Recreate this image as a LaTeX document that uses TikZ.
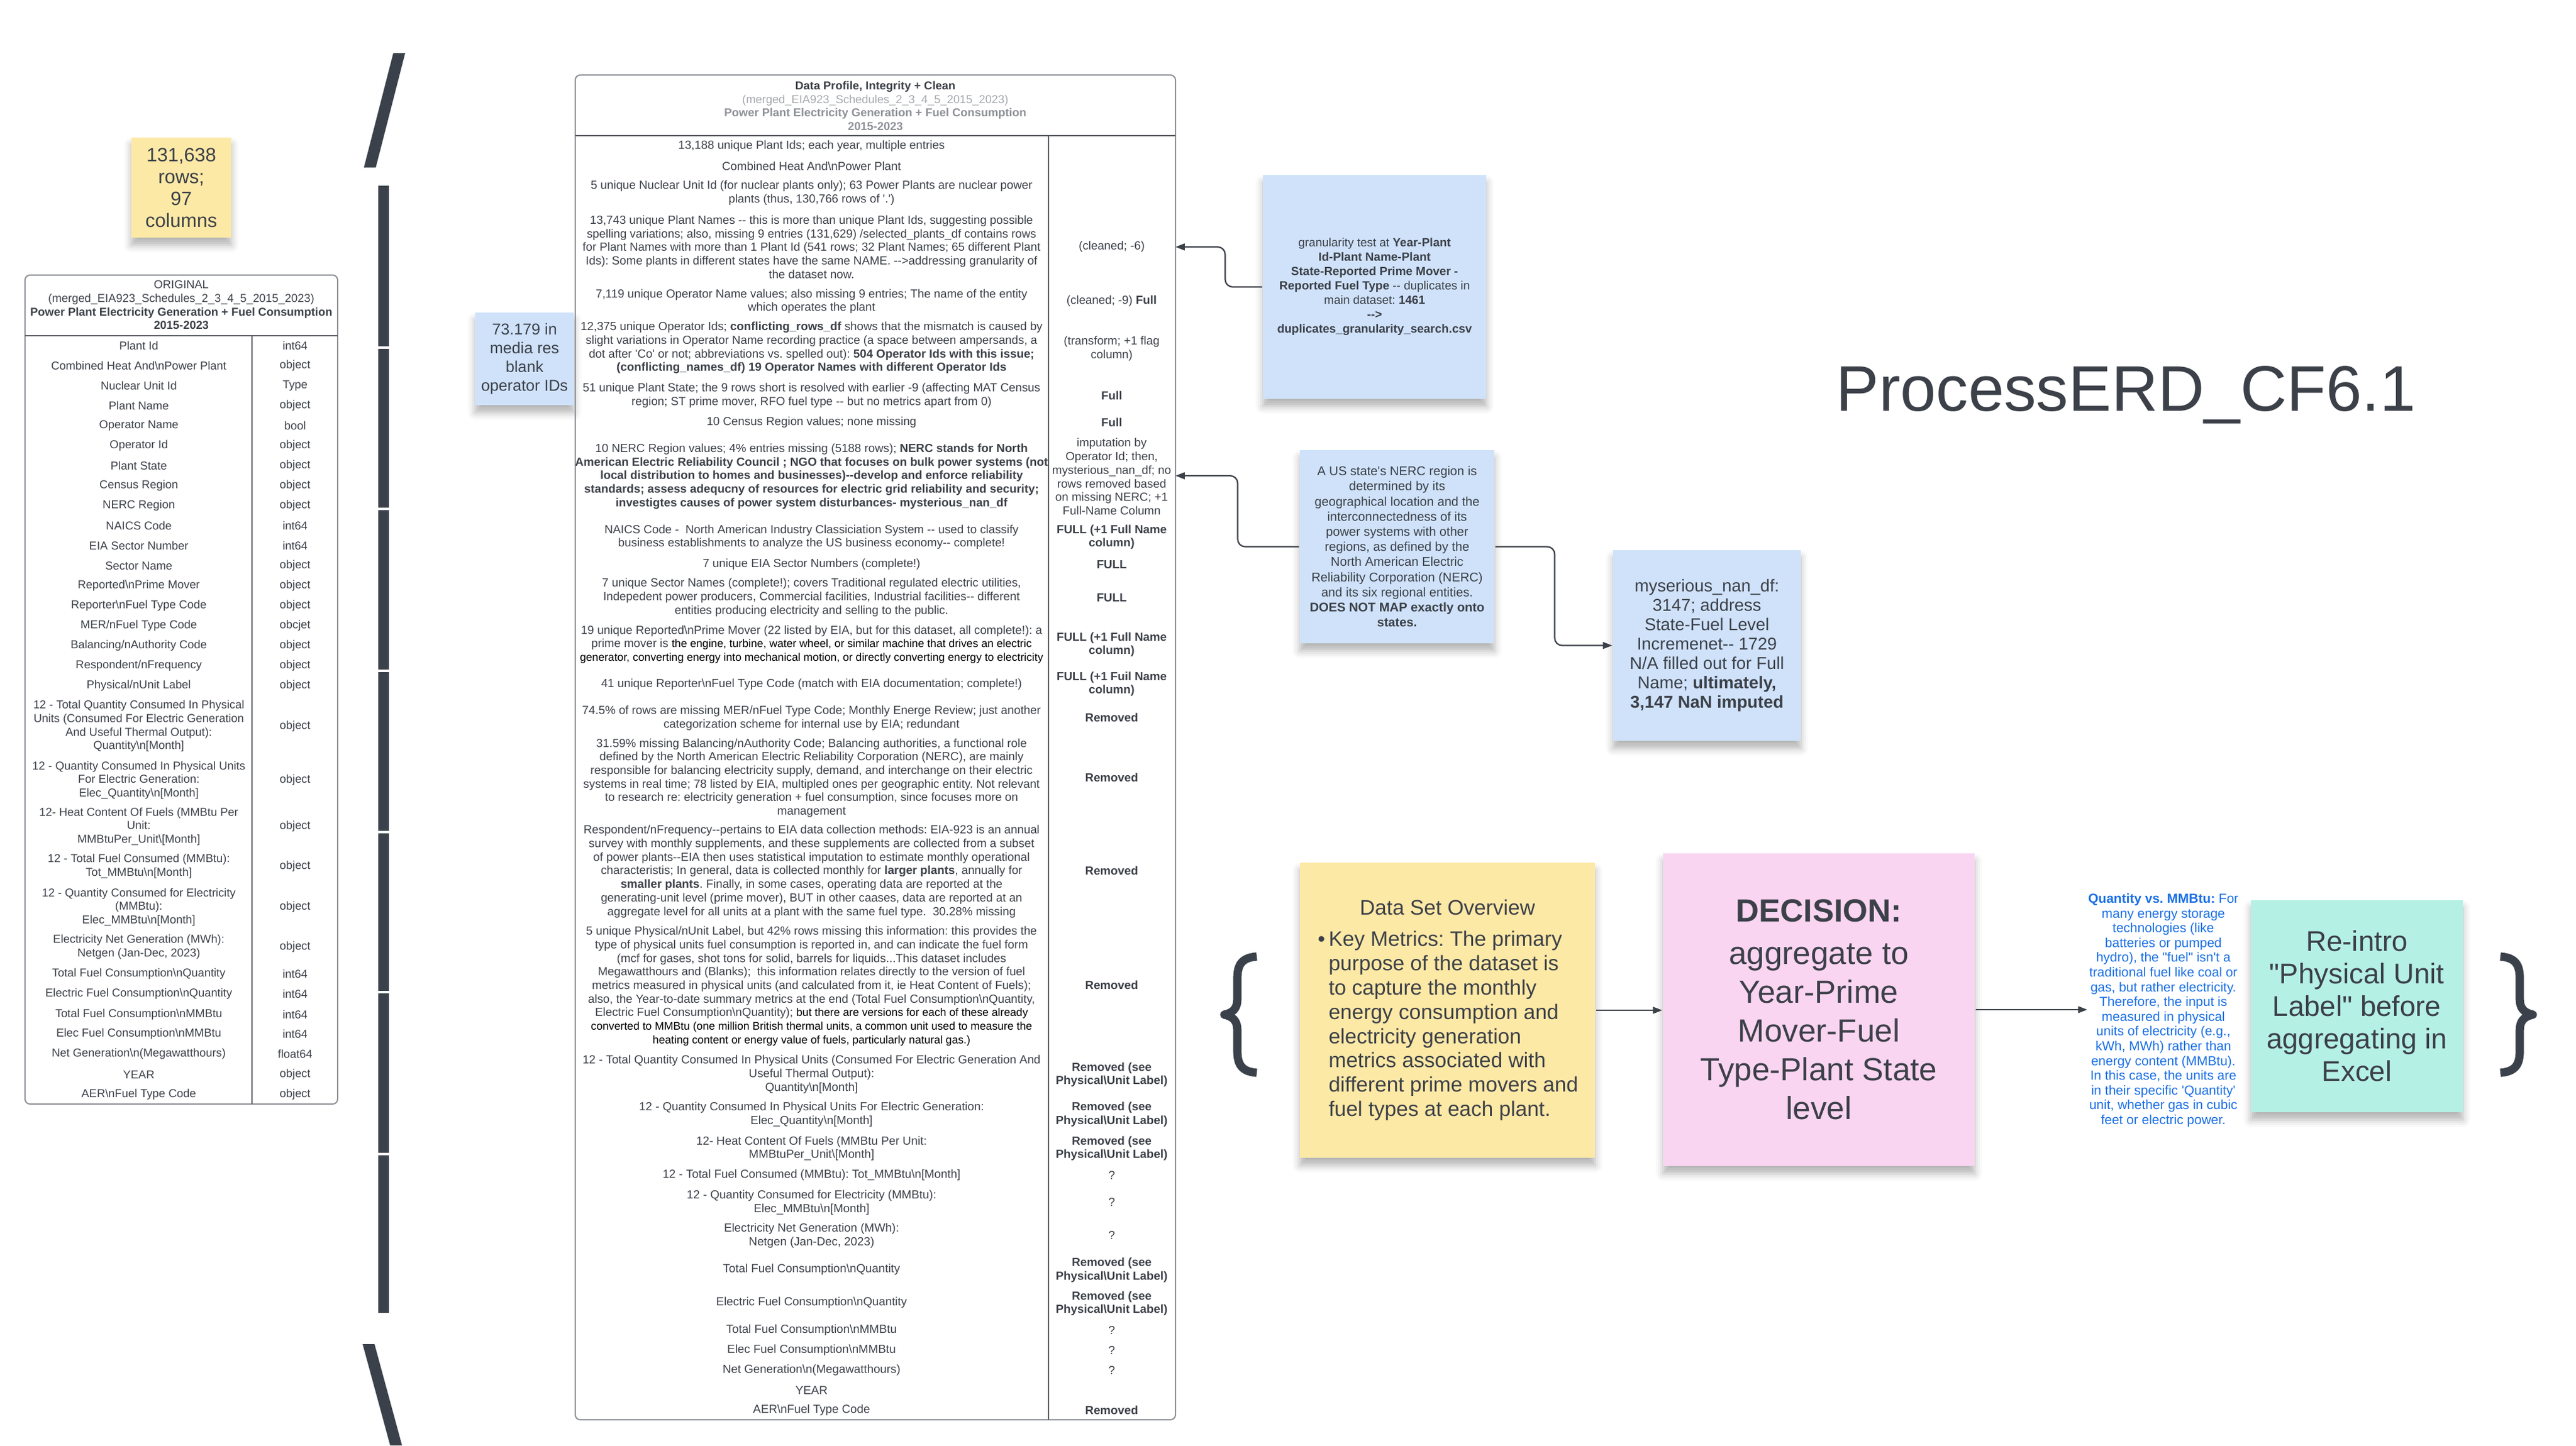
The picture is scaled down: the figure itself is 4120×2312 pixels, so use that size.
\documentclass[tikz,border=0pt]{standalone}
\usepackage{fontspec}
\setmainfont{Liberation Sans}[Ligatures=TeXOff]
\usetikzlibrary{arrows.meta,shadows.blur}
\frenchspacing

\definecolor{ink}{HTML}{3C4048}
\definecolor{frm}{HTML}{8C9096}
\definecolor{frmdark}{HTML}{5A5E64}
\definecolor{hdlight}{HTML}{A6A9AE}
\definecolor{hdgray}{HTML}{8E9197}
\definecolor{yelnote}{HTML}{FDE9A6}
\definecolor{blunote}{HTML}{CFE2FA}
\definecolor{pnknote}{HTML}{FAD5F2}
\definecolor{telnote}{HTML}{B5F0E5}
\definecolor{bluetxt}{HTML}{1A6FE6}
\definecolor{barclr}{HTML}{3A414B}

\newcommand{\fsz}[2]{\fontsize{#1pt}{#2pt}\selectfont}
\newcommand{\bs}{\textbackslash}
\newcommand{\dd}{-\kern0pt-}
\newcommand{\ovline}[1]{\makebox[95pt][l]{#1}}
\newcommand{\blk}[1]{{\fsz{4.42}{5.43}\color{black}#1}}

\tikzset{every picture/.style={line width=0.75pt}}
\tikzset{
  sticky/.style={inner sep=0pt, align=center, text=ink,
    blur shadow={shadow xshift=0pt, shadow yshift=-3pt, shadow blur radius=3pt, shadow opacity=30}},
  tblframe/.style={draw=frm, line width=0.5pt, rounded corners=2pt},
  tblline/.style={draw=frmdark, line width=0.45pt},
  lrow/.style={inner sep=0pt, align=center, text=ink, font=\fsz{4.6}{5.4}},
  mrow/.style={inner sep=0pt, align=center, text=ink, font=\fsz{4.7}{5.43}},
  conn/.style={draw=ink, line width=0.55pt, rounded corners=3pt, -{Triangle[length=3.7pt,width=2.7pt]}},
  bracefill/.style={draw=barclr, line width=3.3pt, line join=round}
}

\begin{document}
\begin{tikzpicture}[x=0.25pt,y=0.25pt,yscale=-1,xscale=1]
\useasboundingbox (0,0) rectangle (4120,2312);

%Shape: big bracket, slashes
\fill [barclr] (582,268) -- (601,268) -- (648,85) -- (629,85) -- cycle;
\fill [barclr] (580,2150) -- (599,2150) -- (643,2312) -- (624,2312) -- cycle;
%Shape: big bracket, bar segments
\fill [barclr] (605,297) rectangle (622,554);
\fill [barclr] (605,558) rectangle (622,812);
\fill [barclr] (605,816) rectangle (622,1071);
\fill [barclr] (605,1075) rectangle (622,1329);
\fill [barclr] (605,1333) rectangle (622,1585);
\fill [barclr] (605,1589) rectangle (622,1844);
\fill [barclr] (605,1848) rectangle (622,2100);

%Sticky: rows and columns
\draw (290,300) node [sticky, fill=yelnote, minimum width=40pt, minimum height=40pt, font=\fsz{7.7}{8.75}] (rowsnote) {131,638\\rows;\\97\\columns};

%Shape: Table ORIGINAL
\draw [tblframe] (40,440) rectangle (540,1766);
\draw [tblline] (40,537) -- (540,537);
\draw [tblline] (403,537) -- (403,1766);
% Text Node
\draw (290,488) node [lrow] (orighead) {ORIGINAL\\(merged\_EIA923\_Schedules\_2\_3\_4\_5\_2015\_2023)\\\textbf{Power Plant Electricity Generation + Fuel Consumption}\\\textbf{2015-2023}};
% Text Nodes, column names
\draw (222,553) node [lrow] (oc1) {Plant Id};
\draw (222,585) node [lrow] (oc2) {Combined Heat And\bs nPower Plant};
\draw (222,617) node [lrow] (oc3) {Nuclear Unit Id};
\draw (222,649) node [lrow] (oc4) {Plant Name};
\draw (222,681) node [lrow] (oc5) {Operator Name};
\draw (222,713) node [lrow] (oc6) {Operator Id};
\draw (222,745) node [lrow] (oc7) {Plant State};
\draw (222,777) node [lrow] (oc8) {Census Region};
\draw (222,809) node [lrow] (oc9) {NERC Region};
\draw (222,841) node [lrow] (oc10) {NAICS Code};
\draw (222,873) node [lrow] (oc11) {EIA Sector Number};
\draw (222,905) node [lrow] (oc12) {Sector Name};
\draw (222,937) node [lrow] (oc13) {Reported\bs nPrime Mover};
\draw (222,969) node [lrow] (oc14) {Reporter\bs nFuel Type Code};
\draw (222,1001) node [lrow] (oc15) {MER/nFuel Type Code};
\draw (222,1033) node [lrow] (oc16) {Balancing/nAuthority Code};
\draw (222,1065) node [lrow] (oc17) {Respondent/nFrequency};
\draw (222,1097) node [lrow] (oc18) {Physical/nUnit Label};
\draw (222,1161.5) node [lrow] (oc19) {12 - Total Quantity Consumed In Physical\\Units (Consumed For Electric Generation\\And Useful Thermal Output):\\Quantity\bs n[Month]};
\draw (222,1248) node [lrow] (oc20) {12 - Quantity Consumed In Physical Units\\For Electric Generation:\\Elec\_Quantity\bs n[Month]};
\draw (222,1322) node [lrow] (oc21) {12- Heat Content Of Fuels (MMBtu Per\\Unit:\\MMBtuPer\_Unit\bs[Month]};
\draw (222,1386) node [lrow] (oc22) {12 - Total Fuel Consumed (MMBtu):\\Tot\_MMBtu\bs n[Month]};
\draw (222,1451) node [lrow] (oc23) {12 - Quantity Consumed for Electricity\\(MMBtu):\\Elec\_MMBtu\bs n[Month]};
\draw (222,1515) node [lrow] (oc24) {Electricity Net Generation (MWh):\\Netgen (Jan-Dec, 2023)};
\draw (222,1558) node [lrow] (oc25) {Total Fuel Consumption\bs nQuantity};
\draw (222,1590) node [lrow] (oc26) {Electric Fuel Consumption\bs nQuantity};
\draw (222,1623) node [lrow] (oc27) {Total Fuel Consumption\bs nMMBtu};
\draw (222,1654) node [lrow] (oc28) {Elec Fuel Consumption\bs nMMBtu};
\draw (222,1686) node [lrow] (oc29) {Net Generation\bs n(Megawatthours)};
\draw (222,1719) node [lrow] (oc30) {YEAR};
\draw (222,1751) node [lrow] (oc31) {AER\bs nFuel Type Code};
% Text Nodes, column types
\draw (472,553) node [lrow] (ot1) {int64};
\draw (472,585) node [lrow] (ot2) {object};
\draw (472,617) node [lrow] (ot3) {Type};
\draw (472,649) node [lrow] (ot4) {object};
\draw (472,681) node [lrow] (ot5) {bool};
\draw (472,713) node [lrow] (ot6) {object};
\draw (472,745) node [lrow] (ot7) {object};
\draw (472,777) node [lrow] (ot8) {object};
\draw (472,809) node [lrow] (ot9) {object};
\draw (472,841) node [lrow] (ot10) {int64};
\draw (472,873) node [lrow] (ot11) {int64};
\draw (472,905) node [lrow] (ot12) {object};
\draw (472,937) node [lrow] (ot13) {object};
\draw (472,969) node [lrow] (ot14) {object};
\draw (472,1001) node [lrow] (ot15) {obcjet};
\draw (472,1033) node [lrow] (ot16) {object};
\draw (472,1065) node [lrow] (ot17) {object};
\draw (472,1097) node [lrow] (ot18) {object};
\draw (472,1161.5) node [lrow] (ot19) {object};
\draw (472,1248) node [lrow] (ot20) {object};
\draw (472,1322) node [lrow] (ot21) {object};
\draw (472,1386) node [lrow] (ot22) {object};
\draw (472,1451) node [lrow] (ot23) {object};
\draw (472,1515) node [lrow] (ot24) {object};
\draw (472,1558) node [lrow] (ot25) {int64};
\draw (472,1590) node [lrow] (ot26) {int64};
\draw (472,1623) node [lrow] (ot27) {int64};
\draw (472,1654) node [lrow] (ot28) {int64};
\draw (472,1686) node [lrow] (ot29) {float64};
\draw (472,1719) node [lrow] (ot30) {object};
\draw (472,1751) node [lrow] (ot31) {object};

%Sticky: blank operator IDs
\draw (839,574) node [sticky, fill=blunote, minimum width=39.5pt, minimum height=37pt, font=\fsz{6.3}{7.5}] (opnote) {73.179 in\\media res\\blank\\operator IDs};

%Shape: Table Data Profile
\draw [tblframe] (920,120) rectangle (1880,2271);
\draw [tblline] (920,217) -- (1880,217);
\draw [tblline] (1677,217) -- (1677,2271);
% Text Node
\draw (1400,169.5) node [lrow] (profhead) {\textbf{Data Profile, Integrity + Clean}\\{\color{hdlight}(merged\_EIA923\_Schedules\_2\_3\_4\_5\_2015\_2023)}\\{\color{hdgray}\textbf{Power Plant Electricity Generation + Fuel Consumption}}\\{\color{hdgray}\textbf{2015-2023}}};
% Text Nodes, profile notes
\draw (1298,234) node [mrow] (m1) {13,188 unique Plant Ids; each year, multiple entries};
\draw (1298,266) node [mrow] (m2) {Combined Heat And\bs nPower Plant};
\draw (1298,308.5) node [mrow] (m3) {5 unique Nuclear Unit Id (for nuclear plants only); 63 Power Plants are nuclear power\\plants (thus, 130,766 rows of '.')};
\draw (1298,395) node [mrow] (m4) {13,743 unique Plant Names \dd{} this is more than unique Plant Ids, suggesting possible\\spelling variations; also, missing 9 entries (131,629) /selected\_plants\_df contains rows\\for Plant Names with more than 1 Plant Id (541 rows; 32 Plant Names; 65 different Plant\\Ids): Some plants in different states have the same NAME. \dd>addressing granularity of\\the dataset now.};
\draw (1298,482) node [mrow] (m5) {7,119 unique Operator Name values; also missing 9 entries; The name of the entity\\which operates the plant};
\draw (1298,556.5) node [mrow] (m6) {12,375 unique Operator Ids; \textbf{conflicting\_rows\_df} shows that the mismatch is caused by\\slight variations in Operator Name recording practice (a space between ampersands, a\\dot after 'Co' or not; abbreviations vs. spelled out): \textbf{504 Operator Ids with this issue;}\\\textbf{(conflicting\_names\_df) 19 Operator Names with different Operator Ids}};
\draw (1298,632.5) node [mrow] (m7) {51 unique Plant State; the 9 rows short is resolved with earlier -9 (affecting MAT Census\\region; ST prime mover, RFO fuel type \dd{} but no metrics apart from 0)};
\draw (1298,676) node [mrow] (m8) {10 Census Region values; none missing};
\draw (1298,762) node [mrow] (m9) {10 NERC Region values; 4\% entries missing (5188 rows); \textbf{NERC stands for North}\\\textbf{American Electric Reliability Council ; NGO that focuses on bulk power systems (not}\\\textbf{local distribution to homes and businesses)\dd{}develop and enforce reliability}\\\textbf{standards; assess adequcny of resources for electric grid reliability and security;}\\\textbf{investigtes causes of power system disturbances- mysterious\_nan\_df}};
\draw (1298,859) node [mrow] (m10) {NAICS Code -\ \ North American Industry Classiciation System \dd{} used to classify\\business establishments to analyze the US business economy\dd{} complete!};
\draw (1298,903) node [mrow] (m11) {7 unique EIA Sector Numbers (complete!)};
\draw (1298,955.5) node [mrow] (m12) {7 unique Sector Names (complete!); covers Traditional regulated electric utilities,\\Indepedent power producers, Commercial facilities, Industrial facilities\dd{} different\\entities producing electricity and selling to the public.};
\draw (1298,1031) node [mrow] (m13) {19 unique Reported\bs nPrime Mover (22 listed by EIA, but for this dataset, all complete!): a\\prime mover is \blk{the engine, turbine, water wheel, or similar machine that drives an electric}\\\blk{generator, converting energy into mechanical motion, or directly converting energy to electricity}};
\draw (1298,1095) node [mrow] (m14) {41 unique Reporter\bs nFuel Type Code (match with EIA documentation; complete!)};
\draw (1298,1148.5) node [mrow] (m15) {74.5\% of rows are missing MER/nFuel Type Code; Monthly Energe Review; just another\\categorization scheme for internal use by EIA; redundant};
\draw (1298,1244.5) node [mrow] (m16) {31.59\% missing Balancing/nAuthority Code; Balancing authorities, a functional role\\defined by the North American Electric Reliability Corporation (NERC), are mainly\\responsible for balancing electricity supply, demand, and interchange on their electric\\systems in real time; 78 listed by EIA, multipled ones per geographic entity. Not relevant\\to research re: electricity generation + fuel consumption, since focuses more on\\management};
\draw (1298,1394) node [mrow] (m17) {Respondent/nFrequency\dd{}pertains to EIA data collection methods: EIA-923 is an annual\\survey with monthly supplements, and these supplements are collected from a subset\\of power plants\dd{}EIA then uses statistical imputation to estimate monthly operational\\characteristis; In general, data is collected monthly for \textbf{larger plants}, annually for\\\textbf{smaller plants}. Finally, in some cases, operating data are reported at the\\generating-unit level (prime mover), BUT in other caases, data are reported at an\\aggregate level for all units at a plant with the same fuel type.\ \ 30.28\% missing};
\draw (1298,1577.5) node [mrow] (m18) {5 unique Physical/nUnit Label, but 42\% rows missing this information: this provides the\\type of physical units fuel consumption is reported in, and can indicate the fuel form\\(mcf for gases, shot tons for solid, barrels for liquids...This dataset includes\\Megawatthours and (Blanks);\ \ this information relates directly to the version of fuel\\metrics measured in physical units (and calculated from it, ie Heat Content of Fuels);\\also, the Year-to-date summary metrics at the end (Total Fuel Consumption\bs nQuantity,\\Electric Fuel Consumption\bs nQuantity); \blk{but there are versions for each of these already}\\\blk{converted to MMBtu (one million British thermal units, a common unit used to measure the}\\\blk{heating content or energy value of fuels, particularly natural gas.)}};
\draw (1298,1718.5) node [mrow] (m19) {12 - Total Quantity Consumed In Physical Units (Consumed For Electric Generation And\\Useful Thermal Output):\\Quantity\bs n[Month]};
\draw (1298,1782.5) node [mrow] (m20) {12 - Quantity Consumed In Physical Units For Electric Generation:\\Elec\_Quantity\bs n[Month]};
\draw (1298,1837) node [mrow] (m21) {12- Heat Content Of Fuels (MMBtu Per Unit:\\MMBtuPer\_Unit\bs[Month]};
\draw (1298,1880) node [mrow] (m22) {12 - Total Fuel Consumed (MMBtu): Tot\_MMBtu\bs n[Month]};
\draw (1298,1923.5) node [mrow] (m23) {12 - Quantity Consumed for Electricity (MMBtu):\\Elec\_MMBtu\bs n[Month]};
\draw (1298,1976.5) node [mrow] (m24) {Electricity Net Generation (MWh):\\Netgen (Jan-Dec, 2023)};
\draw (1298,2031) node [mrow] (m25) {Total Fuel Consumption\bs nQuantity};
\draw (1298,2084) node [mrow] (m26) {Electric Fuel Consumption\bs nQuantity};
\draw (1298,2128) node [mrow] (m27) {Total Fuel Consumption\bs nMMBtu};
\draw (1298,2160) node [mrow] (m28) {Elec Fuel Consumption\bs nMMBtu};
\draw (1298,2192) node [mrow] (m29) {Net Generation\bs n(Megawatthours)};
\draw (1298,2224) node [mrow] (m30) {YEAR};
\draw (1298,2256) node [mrow] (m31) {AER\bs nFuel Type Code};
% Text Nodes, outcome column
\draw (1778,395) node [mrow] (r4) {(cleaned; -6)};
\draw (1778,482) node [mrow] (r5) {(cleaned; -9) \textbf{Full}};
\draw (1778,557.5) node [mrow] (r6) {(transform; +1 flag\\column)};
\draw (1778,633) node [mrow] (r7) {\textbf{Full}};
\draw (1778,676) node [mrow] (r8) {\textbf{Full}};
\draw (1778,762.5) node [mrow] (r9) {imputation by\\Operator Id; then,\\mysterious\_nan\_df; no\\rows removed based\\on missing NERC; +1\\Full-Name Column};
\draw (1778,859) node [mrow] (r10) {\textbf{FULL (+1 Full Name}\\\textbf{column)}};
\draw (1778,903) node [mrow] (r11) {\textbf{FULL}};
\draw (1778,956) node [mrow] (r12) {\textbf{FULL}};
\draw (1778,1031) node [mrow] (r13) {\textbf{FULL (+1 Full Name}\\\textbf{column)}};
\draw (1778,1094) node [mrow] (r14) {\textbf{FULL (+1 Fuil Name}\\\textbf{column)}};
\draw (1778,1148) node [mrow] (r15) {\textbf{Removed}};
\draw (1778,1244) node [mrow] (r16) {\textbf{Removed}};
\draw (1778,1393) node [mrow] (r17) {\textbf{Removed}};
\draw (1778,1576) node [mrow] (r18) {\textbf{Removed}};
\draw (1778,1719) node [mrow] (r19) {\textbf{Removed (see}\\\textbf{Physical\bs Unit Label)}};
\draw (1778,1782.5) node [mrow] (r20) {\textbf{Removed (see}\\\textbf{Physical\bs Unit Label)}};
\draw (1778,1837) node [mrow] (r21) {\textbf{Removed (see}\\\textbf{Physical\bs Unit Label)}};
\draw (1778,1880) node [mrow] (r22) {?};
\draw (1778,1923) node [mrow] (r23) {?};
\draw (1778,1976) node [mrow] (r24) {?};
\draw (1778,2031.5) node [mrow] (r25) {\textbf{Removed (see}\\\textbf{Physical\bs Unit Label)}};
\draw (1778,2085) node [mrow] (r26) {\textbf{Removed (see}\\\textbf{Physical\bs Unit Label)}};
\draw (1778,2128) node [mrow] (r27) {?};
\draw (1778,2160) node [mrow] (r28) {?};
\draw (1778,2192) node [mrow] (r29) {?};
\draw (1778,2256) node [mrow] (r31) {\textbf{Removed}};
% arrow ends on the table edge
\coordinate (cleanrow) at (1880,395);
\coordinate (nercrow) at (1880,761);

%Sticky: granularity test
\draw (2198.5,459) node [sticky, fill=blunote, minimum width=89.25pt, minimum height=89.5pt, font=\fsz{4.75}{5.75}] (granote) {granularity test at \textbf{Year-Plant}\\\textbf{Id-Plant Name-Plant}\\\textbf{State-Reported Prime Mover -}\\\textbf{Reported Fuel Type} \dd{} duplicates in\\main dataset: \textbf{1461}\\\textbf{\dd>}\\\textbf{duplicates\_granularity\_search.csv}};
%Sticky: NERC region
\draw (2234.5,874.5) node [sticky, fill=blunote, minimum width=77.75pt, minimum height=77.25pt, font=\fsz{5.05}{6.05}] (nercnote) {A US state's NERC region is\\determined by its\\geographical location and the\\interconnectedness of its\\power systems with other\\regions, as defined by the\\North American Electric\\Reliability Corporation (NERC)\\and its six regional entities.\\\textbf{DOES NOT MAP exactly onto}\\\textbf{states.}};
%Sticky: mysterious nan
\draw (2730,1032.5) node [sticky, fill=blunote, minimum width=75pt, minimum height=76.25pt, font=\fsz{6.85}{7.75}] (nannote) {myserious\_nan\_df:\\3147; address\\State-Fuel Level\\Incremenet\dd{} 1729\\N/A filled out for Full\\Name; \textbf{ultimately,}\\\textbf{3,147 NaN imputed}};

% Text Node, title
\draw (3400,657) node [anchor=base, inner sep=0pt, text=ink, font=\fsz{25.75}{30}] (title) {ProcessERD\_CF6.1};

%Shape: braces
\draw [bracefill] (2010,1530) .. controls (1986,1532) and (1979,1543) .. (1979,1565) -- (1979,1598) .. controls (1979,1613) and (1972,1620) .. (1958,1623) .. controls (1972,1626) and (1979,1633) .. (1979,1648) -- (1979,1681) .. controls (1979,1703) and (1986,1714) .. (2010,1716);
\draw [bracefill] (3999,1530) .. controls (4023,1532) and (4030,1543) .. (4030,1565) -- (4030,1598) .. controls (4030,1613) and (4037,1620) .. (4051,1623) .. controls (4037,1626) and (4030,1633) .. (4030,1648) -- (4030,1681) .. controls (4030,1703) and (4023,1714) .. (3999,1716);

%Sticky: data set overview
\draw (2315,1616) node [sticky, fill=yelnote, minimum width=118pt, minimum height=118pt, font=\fsz{8.4}{9.7}] (dso) {Data Set Overview\\[2.8pt]\ovline{\llap{\textbullet\,}Key Metrics: The primary}\\\ovline{purpose of the dataset is}\\\ovline{to capture the monthly}\\\ovline{energy consumption and}\\\ovline{electricity generation}\\\ovline{metrics associated with}\\\ovline{different prime movers and}\\\ovline{fuel types at each plant.}};
%Sticky: decision
\draw (2909,1615) node [sticky, fill=pnknote, minimum width=124.5pt, minimum height=125pt, font=\fsz{12.8}{15.5}] (dec) {\textbf{DECISION:}\\[1.5pt]aggregate to\\Year-Prime\\Mover-Fuel\\Type-Plant State\\level};
% Text Node, quantity vs MMBtu
\draw (3460,1616) node [inner sep=0pt, align=center, text=bluetxt, font=\fsz{5.25}{5.9}] (qty) {\textbf{Quantity vs. MMBtu:} For\\many energy storage\\technologies (like\\batteries or pumped\\hydro), the "fuel" isn't a\\traditional fuel like coal or\\gas, but rather electricity.\\Therefore, the input is\\measured in physical\\units of electricity (e.g.,\\kWh, MWh) rather than\\energy content (MMBtu).\\In this case, the units are\\in their specific 'Quantity'\\unit, whether gas in cubic\\feet or electric power.};
%Sticky: re-intro
\draw (3769.5,1609.5) node [sticky, fill=telnote, minimum width=84.75pt, minimum height=84.75pt, font=\fsz{11.4}{13}] (reintro) {Re-intro\\"Physical Unit\\Label" before\\aggregating in\\Excel};

%Connectors
\draw [conn] (granote.west) -- ++(-59,0) |- (cleanrow);
\draw [conn] (nercnote.west) -- ++(-98,0) |- (nercrow);
\draw [conn] (nercnote.east) -- ++(95,0) |- (nannote.west);
\draw [conn] (dso.east) -- (dso.east -| dec.west);
\draw [conn] (dec.east) -- (dec.east -| qty.west);

\end{tikzpicture}
\end{document}
